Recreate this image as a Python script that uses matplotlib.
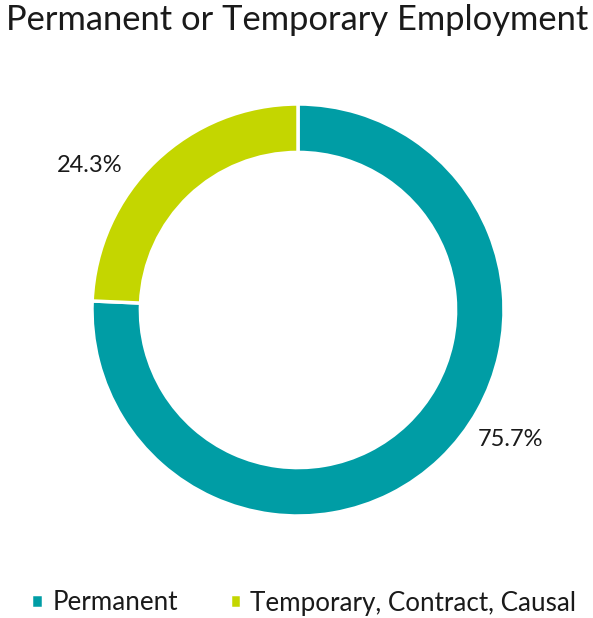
import matplotlib.pyplot as plt

# Datos
categorias = ['Permanent', 'Temporary, Contract, Causal']
valores = [75.7, 24.3]
colores = ['#009DA5', '#C4D600']
etiquetas = ['75.7%', '24.3%']

plt.rcParams['font.family'] = ['Lato', 'DejaVu Sans']

fig = plt.figure(figsize=(5.93, 6.18), dpi=100)

# Eje del donut: centro en (298, 310) px, radio 206 px
W, H = 593, 618
cx, cy, r = 298, 310, 206
ax = fig.add_axes([(cx - r) / W, (H - cy - r) / H, 2 * r / W, 2 * r / H])

wedges, _ = ax.pie(valores, colors=colores, startangle=90, counterclock=False,
                   radius=1, wedgeprops=dict(width=0.235, edgecolor='white', linewidth=2.5))
ax.set_xlim(-1, 1)
ax.set_ylim(-1, 1)
ax.set_aspect('equal')

# Etiquetas de datos
ax.text(1.03, -0.63, etiquetas[0], fontsize=17, ha='center', va='center', color='#1a1a1a')
ax.text(-1.01, 0.70, etiquetas[1], fontsize=17, ha='center', va='center', color='#1a1a1a')

# Titulo
fig.text(297 / W, 1 - 20 / H, 'Permanent or Temporary Employment', fontsize=24.8,
         ha='center', va='center', color='#1a1a1a')

# Leyenda
leg = fig.legend(wedges, categorias, loc='center', bbox_to_anchor=(304 / W, 1 - 603 / H),
                 ncol=2, frameon=False, fontsize=18.7, handlelength=0.45, handleheight=0.45,
                 handletextpad=0.35, columnspacing=2.0)
for t in leg.get_texts():
    t.set_color('#1a1a1a')

plt.savefig('out.png', dpi=100)
